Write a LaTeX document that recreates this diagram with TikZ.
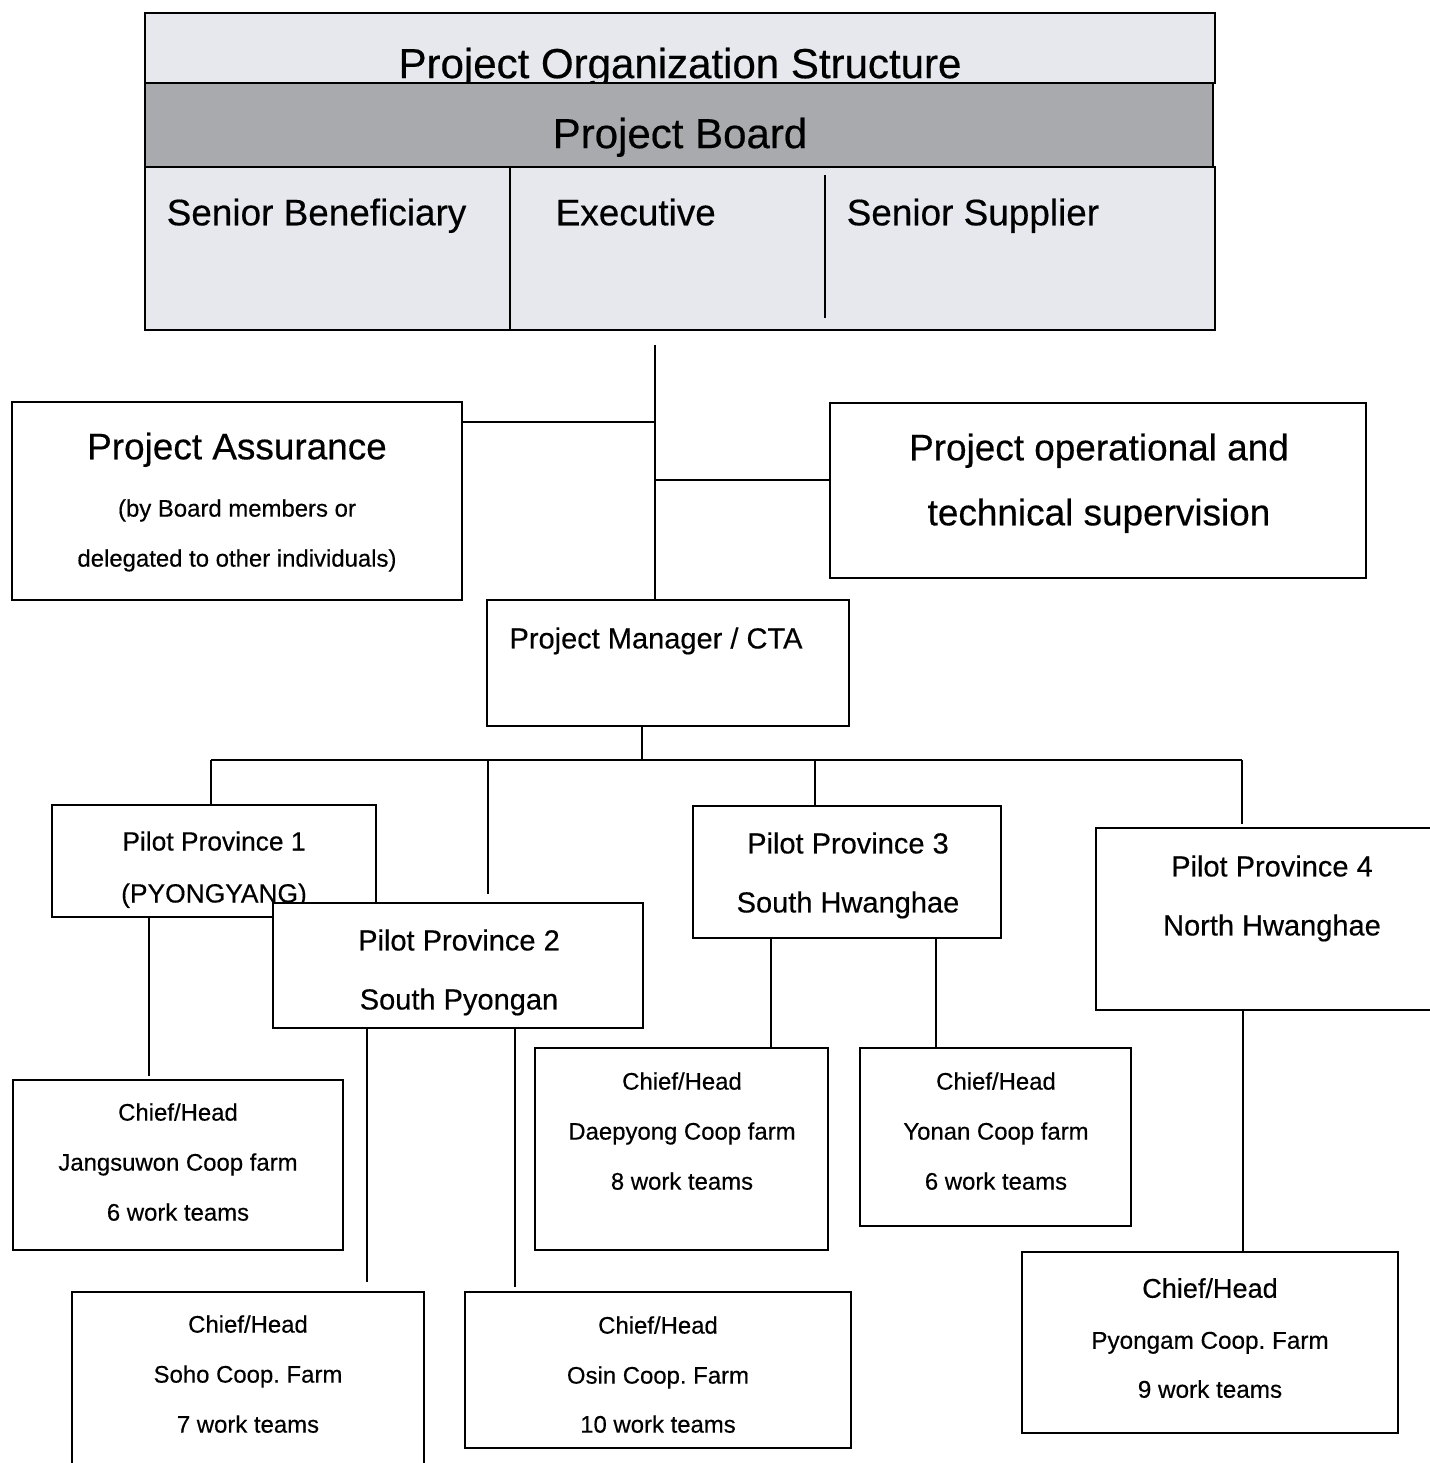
\documentclass[tikz,border=0pt]{standalone}
\usepackage{fontspec}
\setmainfont{Liberation Sans}[FakeBold=0.4]
\usetikzlibrary{fit,calc}
\definecolor{hlight}{HTML}{E6E8EE}
\definecolor{hdark}{HTML}{A9AAAE}
\frenchspacing
\newcommand\myfs[1]{\fontsize{#1pt}{#1pt}\selectfont}
\newcommand\tl[6][center]{\node[tline,anchor=#1,text height={0.72*#5pt},font=\myfs{#5}] (#2) at (#3,#4) {#6};}
\begin{document}
\begin{tikzpicture}[x=0.01cm,y=-0.01cm,
  box/.style={draw,line width=0.65pt,fill=white,inner sep=0pt},
  hbox/.style={box,line width=0.8pt},
  tline/.style={inner sep=0pt,text depth=0pt},
  conn/.style={line width=0.65pt}]
\useasboundingbox (0,0) rectangle (1429,1463);
% header
\node[hbox,fill=hlight,fit={(145,13) (1215,83)}] (h1) {};
\tl{title}{680}{63}{11.95}{Project Organization Structure}
\node[hbox,fill=hdark,fit={(145,83) (1213,167)}] (h2) {};
\tl{board}{680}{133}{11.95}{Project Board}
\node[hbox,fill=hlight,fit={(145,167) (1215,330)}] (h3) {};
\draw[conn] (510,167) -- (510,330);
\draw[conn] (825,175) -- (825,318);
\tl[west]{sb}{166}{212}{10.5}{Senior Beneficiary}
\tl[west]{ex}{555}{212}{10.5}{Executive}
\tl[west]{ss}{846}{212}{10.5}{Senior Supplier}
% assurance / supervision
\node[box,fit={(12,402) (462,600)}] (pa) {};
\tl{pa1}{237}{446}{10.5}{Project Assurance}
\tl{pa2}{237}{508}{6.8}{(by Board members or}
\tl{pa3}{237}{558}{6.8}{delegated to other individuals)}
\node[box,fit={(830,403) (1366,578)}] (po) {};
\tl{po1}{1099}{447}{10.5}{Project operational and}
\tl{po2}{1099}{512}{10.5}{technical supervision}
% project manager
\node[box,fit={(487,600) (849,726)}] (pm) {};
\tl{pm1}{656}{638}{8.25}{Project Manager / CTA}
% provinces
\node[box,fit={(52,805) (376,917)}] (p1) {};
\tl{p1a}{214}{841}{7.5}{Pilot Province 1}
\tl{p1b}{214}{893}{7.5}{(PYONGYANG)}
\node[box,fit={(273,903) (643,1028)}] (p2) {};
\tl{p2a}{459}{940}{8.25}{Pilot Province 2}
\tl{p2b}{459}{999}{8.25}{South Pyongan}
\node[box,fit={(693,806) (1001,938)}] (p3) {};
\tl{p3a}{848}{843}{8.25}{Pilot Province 3}
\tl{p3b}{848}{902}{8.25}{South Hwanghae}
\node[box,fit={(1096,828) (1440,1010)}] (p4) {};
\tl{p4a}{1272}{866}{8.25}{Pilot Province 4}
\tl{p4b}{1272}{925}{8.25}{North Hwanghae}
% farms
\node[box,fit={(13,1080) (343,1250)}] (jang) {};
\tl{j1}{178}{1112}{6.8}{Chief/Head}
\tl{j2}{178}{1162}{6.8}{Jangsuwon Coop farm}
\tl{j3}{178}{1212}{6.8}{6 work teams}
\node[box,fit={(72,1292) (424,1475)}] (soho) {};
\tl{s1}{248}{1324}{6.8}{Chief/Head}
\tl{s2}{248}{1374}{6.8}{Soho Coop. Farm}
\tl{s3}{248}{1424}{6.8}{7 work teams}
\node[box,fit={(465,1292) (851,1448)}] (osin) {};
\tl{o1}{658}{1325}{6.8}{Chief/Head}
\tl{o2}{658}{1375}{6.8}{Osin Coop. Farm}
\tl{o3}{658}{1424}{6.8}{10 work teams}
\node[box,fit={(535,1048) (828,1250)}] (daep) {};
\tl{d1}{682}{1081}{6.8}{Chief/Head}
\tl{d2}{682}{1131}{6.8}{Daepyong Coop farm}
\tl{d3}{682}{1181}{6.8}{8 work teams}
\node[box,fit={(860,1048) (1131,1226)}] (yonan) {};
\tl{y1}{996}{1081}{6.8}{Chief/Head}
\tl{y2}{996}{1131}{6.8}{Yonan Coop farm}
\tl{y3}{996}{1181}{6.8}{6 work teams}
\node[box,fit={(1022,1252) (1398,1433)}] (pyong) {};
\tl{g1}{1210}{1288}{7.7}{Chief/Head}
\tl{g2}{1210}{1340}{6.9}{Pyongam Coop. Farm}
\tl{g3}{1210}{1389}{6.9}{9 work teams}
% connectors
\coordinate (top) at (655,345);
\coordinate (ya) at (0,422);
\coordinate (yo) at (0,480);
\draw[conn] (top) -- (top |- pm.north);
\draw[conn] (pa.east |- ya) -- (top |- ya);
\draw[conn] (top |- yo) -- (po.west |- yo);
\coordinate (bus) at (642,760);
\coordinate (b1) at (211,760);
\coordinate (b2) at (488,760);
\coordinate (b3) at (815,760);
\coordinate (b4) at (1242,760);
\draw[conn] (bus |- pm.south) -- (bus);
\draw[conn] (b1) -- (b4);
\draw[conn] (b1) -- (b1 |- p1.north);
\draw[conn] (b2) -- ($(b2 |- p2.north)+(0,-8)$);
\draw[conn] (b3) -- (b3 |- p3.north);
\draw[conn] (b4) -- ($(b4 |- p4.north)+(0,-3)$);
\coordinate (x1) at (149,0);
\coordinate (x2) at (367,0);
\coordinate (x3) at (515,0);
\coordinate (x4) at (771,0);
\coordinate (x5) at (936,0);
\coordinate (x6) at (1243,0);
\draw[conn] (x1 |- p1.south) -- ($(x1 |- jang.north)+(0,-3)$);
\draw[conn] (x2 |- p2.south) -- ($(x2 |- soho.north)+(0,-9)$);
\draw[conn] (x3 |- p2.south) -- ($(x3 |- osin.north)+(0,-4)$);
\draw[conn] (x4 |- p3.south) -- (x4 |- daep.north);
\draw[conn] (x5 |- p3.south) -- (x5 |- yonan.north);
\draw[conn] (x6 |- p4.south) -- (x6 |- pyong.north);
\end{tikzpicture}
\end{document}
